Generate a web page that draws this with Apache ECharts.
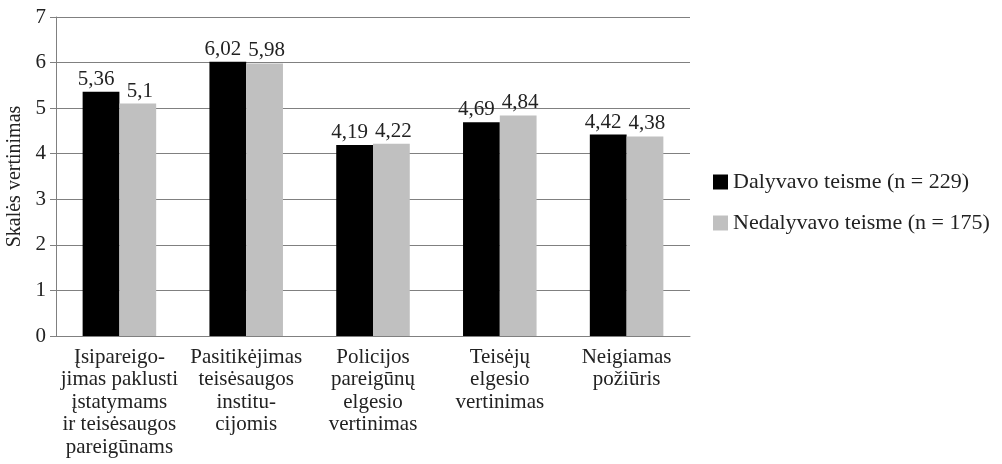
<!DOCTYPE html>
<html>
<head>
<meta charset="utf-8">
<script src="https://cdn.jsdelivr.net/npm/echarts@6/dist/echarts.min.js"></script>
<style>
  html, body { margin: 0; padding: 0; background: #fff; }
  #chart { width: 1002px; height: 464px; }
</style>
</head>
<body>
<div id="chart"></div>
<script>
// --- Data ---
const categories = [
  'Įsipareigo-\njimas paklusti\nįstatymams\nir teisėsaugos\npareigūnams',
  'Pasitikėjimas\nteisėsaugos\ninstitu-\ncijomis',
  'Policijos\npareigūnų\nelgesio\nvertinimas',
  'Teisėjų\nelgesio\nvertinimas',
  'Neigiamas\npožiūris'
];
const participated = [5.36, 6.02, 4.19, 4.69, 4.42];
const notParticipated = [5.1, 5.98, 4.22, 4.84, 4.38];
const seriesNames = ['Dalyvavo teisme (n = 229)', 'Nedalyvavo teisme (n = 175)'];

const FONT = 'Liberation Serif';
const TEXT = '#222';

function fmt(v) {
  return String(v).replace('.', ',');
}

// value labels sit a little apart so neighbours don't collide
function valueLabel(dx) {
  return {
    show: true,
    position: 'top',
    distance: 2,
    offset: [dx, 0],
    fontFamily: FONT,
    fontSize: 21,
    color: TEXT,
    formatter: p => fmt(p.value)
  };
}

const chart = echarts.init(document.getElementById('chart'), null, { renderer: 'canvas' });

chart.setOption({
  backgroundColor: '#fff',
  animation: false,
  legend: {
    orient: 'vertical',
    left: 708,
    top: 166,
    itemWidth: 15,
    itemHeight: 15,
    itemGap: 19,
    icon: 'rect',
    textStyle: { fontFamily: FONT, fontSize: 22, color: TEXT },
    data: seriesNames
  },
  grid: { left: 56, right: 312, top: 17, bottom: 128, containLabel: false, outerBoundsMode: 'none' },
  xAxis: {
    type: 'category',
    data: categories,
    axisLine: { lineStyle: { color: '#808080', width: 1 } },
    axisTick: { show: false },
    axisLabel: {
      interval: 0,
      fontFamily: FONT,
      fontSize: 21,
      color: TEXT,
      lineHeight: 22.5,
      margin: 10
    }
  },
  yAxis: {
    type: 'value',
    min: 0,
    max: 7,
    interval: 1,
    name: 'Skalės vertinimas',
    nameLocation: 'middle',
    nameGap: 30,
    nameTextStyle: { fontFamily: FONT, fontSize: 20, color: TEXT },
    axisLine: { show: true, lineStyle: { color: '#808080' } },
    axisTick: { show: true, length: 6, lineStyle: { color: '#808080' } },
    axisLabel: { fontFamily: FONT, fontSize: 21, color: TEXT, margin: 10 },
    splitLine: { lineStyle: { color: '#808080', width: 1 } }
  },
  series: [
    {
      name: seriesNames[0],
      type: 'bar',
      data: participated,
      barWidth: '29%',
      barGap: '0%',
      itemStyle: { color: '#000' },
      label: valueLabel(-5)
    },
    {
      name: seriesNames[1],
      type: 'bar',
      data: notParticipated,
      barWidth: '29%',
      itemStyle: { color: '#c0c0c0' },
      label: valueLabel(2)
    }
  ]
});
</script>
</body>
</html>
